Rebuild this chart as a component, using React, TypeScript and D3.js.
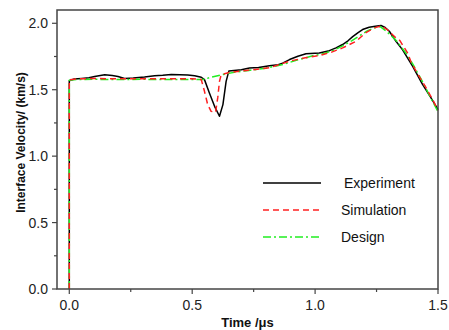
import { useMemo } from "react";
import * as d3 from "d3";

const W = 449;
const H = 330;
const MARGIN = { top: 10, right: 11, bottom: 41, left: 57 };
const FONT = "Arial, 'Liberation Sans', Helvetica, sans-serif";

const X_TICKS = [0, 0.5, 1.0, 1.5];
const X_MINOR = [0.25, 0.75, 1.25];
const Y_TICKS = [0, 0.5, 1.0, 1.5, 2.0];
const Y_MINOR = [0.25, 0.75, 1.25, 1.75];

// Experiment (black solid)
const EXP_T = [0, 0, 0.02, 0.05, 0.08, 0.103, 0.144, 0.175, 0.198, 0.225, 0.26, 0.306, 0.347, 0.38, 0.415, 0.45, 0.482, 0.51, 0.537, 0.55, 0.57, 0.591, 0.611, 0.625, 0.638, 0.649, 0.67, 0.70, 0.733, 0.77, 0.814, 0.85, 0.868, 0.896, 0.93, 0.963, 1.017, 1.058, 1.085, 1.112, 1.135, 1.153, 1.175, 1.193, 1.22, 1.245, 1.268, 1.285, 1.302, 1.329, 1.356, 1.397, 1.437, 1.471, 1.5];
const EXP_V = [0, 1.568, 1.58, 1.585, 1.59, 1.60, 1.613, 1.607, 1.60, 1.585, 1.588, 1.595, 1.605, 1.608, 1.615, 1.612, 1.61, 1.605, 1.594, 1.576, 1.476, 1.375, 1.30, 1.388, 1.563, 1.64, 1.645, 1.65, 1.664, 1.668, 1.68, 1.688, 1.70, 1.727, 1.752, 1.77, 1.777, 1.794, 1.815, 1.84, 1.87, 1.90, 1.93, 1.953, 1.97, 1.978, 1.983, 1.968, 1.94, 1.865, 1.80, 1.676, 1.54, 1.44, 1.35];

// Simulation (red dashed)
const SIM_T = [0, 0, 0.03, 0.1, 0.2, 0.3, 0.4, 0.5, 0.537, 0.55, 0.563, 0.577, 0.595, 0.604, 0.611, 0.618, 0.65, 0.72, 0.814, 0.896, 0.96, 1.017, 1.07, 1.112, 1.167, 1.207, 1.24, 1.27, 1.295, 1.323, 1.345, 1.376, 1.39, 1.42, 1.45, 1.48, 1.5];
const SIM_V = [0, 1.575, 1.582, 1.584, 1.582, 1.582, 1.583, 1.583, 1.576, 1.488, 1.388, 1.337, 1.33, 1.44, 1.563, 1.614, 1.63, 1.645, 1.665, 1.715, 1.74, 1.757, 1.785, 1.815, 1.865, 1.93, 1.965, 1.98, 1.95, 1.90, 1.87, 1.777, 1.71, 1.61, 1.52, 1.42, 1.345];

// Design (green dash-dot)
const DES_T = [0, 0, 0.03, 0.1, 0.2, 0.3, 0.4, 0.5, 0.545, 0.58, 0.625, 0.679, 0.73, 0.8, 0.87, 0.93, 0.99, 1.03, 1.08, 1.112, 1.15, 1.18, 1.21, 1.24, 1.265, 1.29, 1.33, 1.37, 1.40, 1.44, 1.47, 1.5];
const DES_V = [0, 1.572, 1.577, 1.578, 1.577, 1.578, 1.577, 1.577, 1.577, 1.595, 1.614, 1.634, 1.645, 1.662, 1.69, 1.725, 1.755, 1.77, 1.80, 1.83, 1.87, 1.905, 1.94, 1.965, 1.975, 1.94, 1.87, 1.775, 1.685, 1.55, 1.44, 1.335];

const SERIES = [
  { name: "Experiment", t: EXP_T, v: EXP_V, color: "#000000", dash: "none", width: 1.5 },
  { name: "Design", t: DES_T, v: DES_V, color: "#22ee22", dash: "8,3,2,3", width: 1.5 },
  { name: "Simulation", t: SIM_T, v: SIM_V, color: "#ff2020", dash: "6,4", width: 1.5 },
];
const LEGEND_ORDER = ["Experiment", "Simulation", "Design"];

export default function App() {
  const x = useMemo(
    () => d3.scaleLinear().domain([-0.05, 1.5]).range([MARGIN.left, W - MARGIN.right]),
    []
  );
  const y = useMemo(
    () => d3.scaleLinear().domain([0, 2.1]).range([H - MARGIN.bottom, MARGIN.top]),
    []
  );
  const line = d3
    .line<[number, number]>()
    .x((d) => x(d[0]))
    .y((d) => y(d[1]));

  const x0 = MARGIN.left;
  const x1 = W - MARGIN.right;
  const y0 = H - MARGIN.bottom;
  const y1 = MARGIN.top;
  const axisColor = "#444";

  return (
    <svg
      width={W}
      height={H}
      style={{ position: "absolute", left: 0, top: 0, background: "#fff" }}
      fontFamily={FONT}
    >
      {/* series */}
      {SERIES.map((s) => (
        <path
          key={s.name}
          d={line(s.t.map((t, i) => [t, s.v[i]] as [number, number])) ?? ""}
          fill="none"
          stroke={s.color}
          strokeWidth={s.width}
          strokeDasharray={s.dash}
          strokeLinejoin="round"
        />
      ))}

      {/* frame */}
      <rect x={x0} y={y1} width={x1 - x0} height={y0 - y1} fill="none" stroke={axisColor} strokeWidth={1.5} />

      {/* x ticks */}
      {X_TICKS.map((t) => (
        <g key={"xt" + t}>
          <line x1={x(t)} x2={x(t)} y1={y0} y2={y0 + 5} stroke={axisColor} strokeWidth={1.2} />
          <text x={x(t)} y={y0 + 21} textAnchor="middle" fontSize={14} fill="#222">
            {t.toFixed(1)}
          </text>
        </g>
      ))}
      {X_MINOR.map((t) => (
        <line key={"xm" + t} x1={x(t)} x2={x(t)} y1={y0} y2={y0 + 3} stroke={axisColor} strokeWidth={1.2} />
      ))}

      {/* y ticks */}
      {Y_TICKS.map((v) => (
        <g key={"yt" + v}>
          <line x1={x0 - 5} x2={x0} y1={y(v)} y2={y(v)} stroke={axisColor} strokeWidth={1.2} />
          <text x={x0 - 9} y={y(v)} dy="0.36em" textAnchor="end" fontSize={14} fill="#222">
            {v.toFixed(1)}
          </text>
        </g>
      ))}
      {Y_MINOR.map((v) => (
        <line key={"ym" + v} x1={x0 - 3} x2={x0} y1={y(v)} y2={y(v)} stroke={axisColor} strokeWidth={1.2} />
      ))}

      {/* axis titles */}
      <text x={(x0 + x1) / 2 + 0} y={H - 3} textAnchor="middle" fontSize={13} fontWeight="bold" fill="#111">
        Time /μs
      </text>
      <text
        transform={`translate(25,${(y0 + y1) / 2 - 7}) rotate(-90)`}
        textAnchor="middle"
        fontSize={12}
        fontWeight="bold"
        fill="#111"
      >
        Interface Velocity/ (km/s)
      </text>

      {/* legend */}
      {LEGEND_ORDER.map((name, i) => {
        const s = SERIES.find((d) => d.name === name)!;
        const ly = 183 + i * 27;
        return (
          <g key={"lg" + name}>
            <line x1={263} x2={321} y1={ly} y2={ly} stroke={s.color} strokeWidth={1.5} strokeDasharray={s.dash} />
            <text x={name === "Experiment" ? 344 : 341} y={ly + 5} fontSize={14} fill="#111">
              {name}
            </text>
          </g>
        );
      })}
    </svg>
  );
}
